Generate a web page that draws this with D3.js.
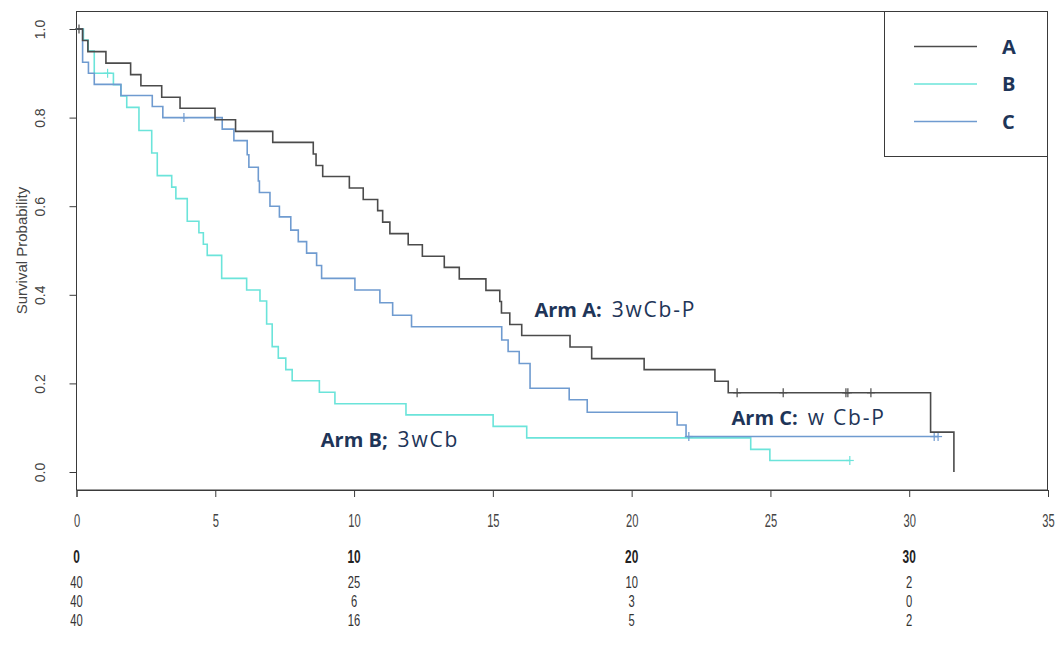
<!DOCTYPE html>
<html>
<head>
<meta charset="utf-8">
<script src="https://cdn.jsdelivr.net/npm/d3@7"></script>
<style>
  body { margin: 0; background: #ffffff; }
  svg { display: block; }
</style>
</head>
<body>
<svg id="chart" width="1055" height="652"></svg>
<script>
// Kaplan–Meier step functions: time of each step (months) and survival after it
const armATimes = [0, 0.22, 0.41, 1.06, 1.95, 2.32, 3.07, 3.73, 4.99, 5.73, 7.07, 8.53, 8.63, 8.87, 9.83,
  10.33, 10.85, 11.03, 11.29, 11.95, 12.46, 13.25, 13.79, 14.75, 15.25, 15.31, 15.61, 16.04, 17.78, 18.56,
  20.45, 23.00, 23.48, 30.77, 31.61];
const armASurv = [1, 0.974, 0.949, 0.923, 0.897, 0.872, 0.846, 0.821, 0.795, 0.769, 0.744, 0.718, 0.692, 0.667, 0.641,
  0.615, 0.590, 0.564, 0.538, 0.513, 0.487, 0.462, 0.436, 0.410, 0.385, 0.359, 0.333, 0.308, 0.282, 0.256,
  0.231, 0.205, 0.179, 0.090, 0];
const armACensor = [0.09, 23.80, 25.46, 27.72, 27.79, 28.62];
const armAEnd = 31.61;

const armBTimes = [0, 0.25, 0.42, 0.64, 1.33, 1.60, 1.81, 2.25, 2.71, 2.91, 3.43, 3.58, 3.99, 4.41, 4.57, 4.71,
  5.23, 6.13, 6.61, 6.85, 7.05, 7.27, 7.54, 7.77, 8.75, 9.31, 11.87, 15.01, 16.22, 24.29, 24.98];
const armBSurv = [1, 0.975, 0.95, 0.9, 0.874, 0.849, 0.823, 0.771, 0.720, 0.669, 0.643, 0.617, 0.566, 0.540, 0.514, 0.489,
  0.437, 0.411, 0.386, 0.334, 0.283, 0.257, 0.231, 0.206, 0.180, 0.154, 0.129, 0.103, 0.077, 0.051, 0.026];
const armBCensor = [1.12, 27.86];
const armBEnd = 27.86;

const armCTimes = [0, 0.22, 0.43, 0.64, 1.60, 2.73, 3.11, 5.25, 5.67, 6.15, 6.21, 6.55, 6.59, 6.97, 7.31, 7.72,
  7.99, 8.29, 8.65, 8.83, 10.03, 10.93, 11.39, 12.07, 15.32, 15.55, 15.95, 16.34, 17.75, 18.40, 21.64, 21.96];
const armCSurv = [1, 0.925, 0.9, 0.875, 0.85, 0.825, 0.8, 0.774, 0.748, 0.716, 0.688, 0.657, 0.631, 0.600, 0.576, 0.546,
  0.520, 0.494, 0.466, 0.437, 0.411, 0.382, 0.354, 0.328, 0.298, 0.272, 0.245, 0.189, 0.163, 0.135, 0.106, 0.080];
const armCCensor = [3.87, 22.06, 30.90, 31.04];
const armCEnd = 31.04;

// Axes and number-at-risk table
const xTicks = [0, 5, 10, 15, 20, 25, 30, 35];
const yTicks = [0, 0.2, 0.4, 0.6, 0.8, 1.0];
const riskTimes = [0, 10, 20, 30];
const riskA = [40, 25, 10, 2];
const riskB = [40, 6, 3, 0];
const riskC = [40, 16, 5, 2];

const legendLabels = ["A", "B", "C"];
const armColors = ["#4b4b4b", "#6be4da", "#6f9bd0"];
const armNotes = [
  { bold: "Arm A:", rest: "3wCb-P", t: 16.5, s: 0.35 },
  { bold: "Arm B;", rest: "3wCb", t: 8.8, s: 0.056 },
  { bold: "Arm C:", rest: "w Cb-P", t: 23.6, s: 0.106 }
];

const navy = "#1e3558";
const axisInk = "#444";
const sans = "'Liberation Sans', Arial, sans-serif";

const svg = d3.select("#chart");
const x = d3.scaleLinear().domain([0, 35]).range([76.5, 1048]);
const y = d3.scaleLinear().domain([0, 1]).range([472, 29]);

// plot frame
svg.append("rect")
  .attr("x", 76.5).attr("y", 11.5)
  .attr("width", 971).attr("height", 478.5)
  .attr("fill", "none").attr("stroke", "#3a3a3a").attr("stroke-width", 1);

// x axis (condensed tick numerals)
const gx = svg.append("g").attr("transform", "translate(0,490)")
  .call(d3.axisBottom(x).tickValues(xTicks).tickSize(7).tickFormat(d3.format("d")));
gx.select(".domain").attr("stroke", "#3a3a3a");
gx.selectAll(".tick line").attr("stroke", "#3a3a3a");
gx.selectAll(".tick text").remove();
gx.selectAll(".tick").append("text")
  .attr("transform", "translate(0,37) scale(0.62,1)")
  .attr("text-anchor", "middle")
  .attr("fill", axisInk).attr("font-family", sans).attr("font-size", 18)
  .text(d => d3.format("d")(d));

// y axis
const gy = svg.append("g").attr("transform", "translate(76.5,0)")
  .call(d3.axisLeft(y).tickValues(yTicks).tickSize(7).tickFormat(d3.format(".1f")));
gy.select(".domain").remove();
gy.selectAll(".tick line").attr("stroke", "#3a3a3a");
gy.selectAll(".tick text").remove();
gy.selectAll(".tick").append("text")
  .attr("transform", "translate(-36,0) rotate(-90)")
  .attr("text-anchor", "middle").attr("dy", "0.35em")
  .attr("fill", axisInk).attr("font-family", sans).attr("font-size", 14)
  .text(d => d3.format(".1f")(d));

svg.append("text")
  .attr("transform", `translate(27,${(y(0) + y(1)) / 2}) rotate(-90)`)
  .attr("text-anchor", "middle")
  .attr("fill", axisInk).attr("font-family", sans).attr("font-size", 15)
  .text("Survival Probability");

// survival curves
const arms = [
  { times: armATimes, surv: armASurv, censor: armACensor, end: armAEnd },
  { times: armBTimes, surv: armBSurv, censor: armBCensor, end: armBEnd },
  { times: armCTimes, surv: armCSurv, censor: armCCensor, end: armCEnd }
];
const stepLine = d3.line().x(d => x(d[0])).y(d => y(d[1])).curve(d3.curveStepAfter);

const survAt = (arm, t) => {
  let s = arm.surv[0];
  arm.times.forEach((tt, i) => { if (tt <= t) s = arm.surv[i]; });
  return s;
};

// draw B first, then C, then A on top
[1, 2, 0].forEach(k => {
  const arm = arms[k];
  const pts = arm.times.map((t, i) => [t, arm.surv[i]]);
  const last = pts[pts.length - 1];
  if (arm.end > last[0]) pts.push([arm.end, last[1]]);
  svg.append("path")
    .attr("d", stepLine(pts))
    .attr("fill", "none")
    .attr("stroke", armColors[k])
    .attr("stroke-width", 1.6);
  const marks = svg.append("g").attr("stroke", armColors[k]).attr("stroke-width", 1.2);
  arm.censor.forEach(t => {
    const cx = x(t), cy = y(survAt(arm, t));
    marks.append("line").attr("x1", cx).attr("x2", cx).attr("y1", cy - 4.5).attr("y2", cy + 4.5);
    marks.append("line").attr("x1", cx - 4).attr("x2", cx + 4).attr("y1", cy).attr("y2", cy);
  });
});

// arm annotations
armNotes.forEach(n => {
  const t = svg.append("text")
    .attr("x", x(n.t)).attr("y", y(n.s))
    .attr("fill", navy).attr("font-family", "'Open Sans', sans-serif").attr("font-size", 20);
  t.append("tspan").attr("font-weight", 700).text(n.bold);
  t.append("tspan").attr("dx", 10).attr("font-weight", 400).attr("font-size", 21)
    .attr("letter-spacing", 1.8).text(n.rest);
});

// legend
const lg = svg.append("g");
lg.append("rect")
  .attr("x", 884.5).attr("y", 11.5).attr("width", 163).attr("height", 145)
  .attr("fill", "#fff").attr("stroke", "#3a3a3a").attr("stroke-width", 1);
legendLabels.forEach((lab, i) => {
  const ly = 46.5 + i * 37.5;
  lg.append("line").attr("x1", 914).attr("x2", 977).attr("y1", ly).attr("y2", ly)
    .attr("stroke", armColors[i]).attr("stroke-width", 1.6);
  lg.append("text").attr("x", 1002).attr("y", ly + 7)
    .attr("fill", navy).attr("font-family", "'Open Sans', sans-serif")
    .attr("font-weight", 700).attr("font-size", 20).text(lab);
});

// number at risk (condensed numerals)
const rt = svg.append("g").attr("font-family", sans).attr("text-anchor", "middle");
riskTimes.forEach(d => {
  rt.append("text")
    .attr("transform", `translate(${x(d)},563) scale(0.66,1)`)
    .attr("font-size", 18).attr("font-weight", 700).attr("fill", "#222")
    .text(d);
});
[riskA, riskB, riskC].forEach((row, r) => {
  row.forEach((v, i) => {
    rt.append("text")
      .attr("transform", `translate(${x(riskTimes[i])},${588 + r * 19}) scale(0.7,1)`)
      .attr("font-size", 16).attr("fill", "#333")
      .text(v);
  });
});
</script>
</body>
</html>
